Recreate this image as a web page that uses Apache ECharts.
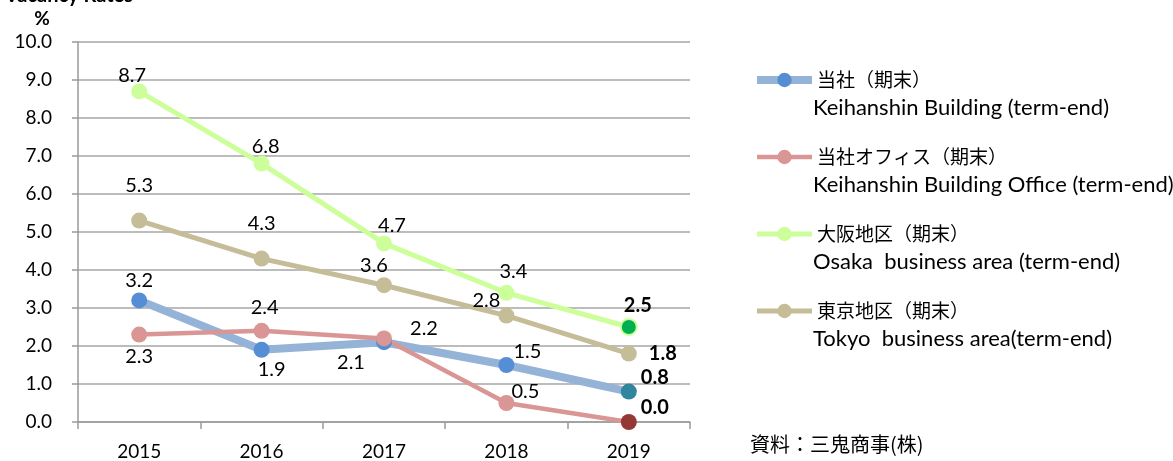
<!DOCTYPE html>
<html>
<head>
<meta charset="utf-8">
<script src="https://cdn.jsdelivr.net/npm/echarts@6/dist/echarts.min.js"></script>
<style>
  html, body { margin: 0; padding: 0; background: #fff; }
  #chart { width: 1173px; height: 461px; }
</style>
</head>
<body>
<div id="chart"></div>
<script>
// years and vacancy rates (%), term-end
var years = ['2015', '2016', '2017', '2018', '2019'];
var companyRate = [3.2, 1.9, 2.1, 1.5, 0.8];
var companyOfficeRate = [2.3, 2.4, 2.2, 0.5, 0.0];
var osakaRate = [8.7, 6.8, 4.7, 3.4, 2.5];
var tokyoRate = [5.3, 4.3, 3.6, 2.8, 1.8];

var seriesNames = ['当社（期末）', '当社オフィス（期末）', '大阪地区（期末）', '東京地区（期末）'];
var seriesNamesEn = ['Keihanshin Building (term-end)', 'Keihanshin Building Office (term-end)',
    'Osaka  business area (term-end)', 'Tokyo  business area(term-end)'];

// label offsets (px from point)
var companyOffsets = [[0, -20], [10, 20], [-33, 20], [21, -13], [26, -14]];
var officeOffsets = [[0, 22], [3, -23], [40, -10], [19, -11], [26, -14]];
var osakaOffsets = [[-7, -16], [4, -17], [8, -18], [7, -21], [9, -21]];
var tokyoOffsets = [[0, -35], [0, -35], [-10, -20], [-20, -15], [34, 0]];

var lineWidths = [8, 4.5, 5, 5];

var font = 'Lato, "Liberation Sans", sans-serif';
var jpFont = '"Noto Sans CJK JP", sans-serif';

function makeSeries(idx, values, lineColor, dotColor, lastColor, offsets) {
    var last = values.length - 1;
    return {
        name: seriesNames[idx],
        type: 'line',
        symbol: 'circle',
        symbolSize: 16,
        lineStyle: { color: lineColor, width: lineWidths[idx] },
        itemStyle: { color: dotColor },
        label: {
            show: true,
            position: 'inside',
            color: '#000',
            fontSize: 20,
            fontFamily: font,
            formatter: function (p) { return Number(p.value).toFixed(1); }
        },
        emphasis: { disabled: true },
        data: values.map(function (v, i) {
            var item = {
                value: v,
                label: { offset: offsets[i], fontWeight: i === last ? 'bold' : 'normal' }
            };
            if (i === last) item.itemStyle = lastColor;
            return item;
        })
    };
}

var enTexts = seriesNamesEn.map(function (t, i) {
    return {
        type: 'text', x: 813, y: 108 + i * 77,
        style: { text: t, fill: '#000', font: '22px ' + font, textVerticalAlign: 'middle' }
    };
});

var dom = document.getElementById('chart');
var myChart = echarts.init(dom);

var option = {
    animation: false,
    grid: { left: 78, right: 483, top: 42, bottom: 39 },
    legend: {
        orient: 'vertical',
        left: 753,
        top: 67,
        padding: 0,
        itemWidth: 55,
        itemHeight: 18,
        itemGap: 51,
        selectedMode: false,
        data: seriesNames.map(function (n, i) {
            return { name: n, lineStyle: { width: lineWidths[i] } };
        }),
        textStyle: { fontFamily: jpFont, fontSize: 19, lineHeight: 26, color: '#000' }
    },
    xAxis: {
        type: 'category',
        data: years,
        axisLine: { lineStyle: { color: '#9a9a9a', width: 1.5 } },
        axisTick: { show: true, length: 7, lineStyle: { color: '#9a9a9a', width: 1.5 } },
        axisLabel: { color: '#000', fontSize: 19, fontFamily: font, margin: 20 }
    },
    yAxis: {
        type: 'value',
        min: 0,
        max: 10,
        interval: 1,
        axisLine: { show: true, lineStyle: { color: '#9a9a9a', width: 1.5 } },
        axisTick: { show: true, length: 6, lineStyle: { color: '#9a9a9a', width: 1.5 } },
        splitLine: { lineStyle: { color: '#a6a6a6', width: 1.5 } },
        axisLabel: {
            color: '#000', fontSize: 19, fontFamily: font, margin: 26,
            formatter: function (v) { return v.toFixed(1); }
        }
    },
    graphic: [
        {
            type: 'text', x: 133, y: -14,
            style: { text: 'Vacancy Rates', fill: '#000', font: 'bold 20px ' + font, textAlign: 'right' }
        },
        {
            type: 'text', x: 42, y: 19,
            style: { text: '%', fill: '#000', font: 'bold 19px ' + font, textAlign: 'center', textVerticalAlign: 'middle' }
        },
        {
            type: 'text', x: 750, y: 444,
            style: { text: '資料：三鬼商事(株)', fill: '#000', font: '20px ' + jpFont, textVerticalAlign: 'middle' }
        }
    ].concat(enTexts),
    series: [
        makeSeries(0, companyRate, '#95b3d7', '#558ed5', { color: '#31859c' }, companyOffsets),
        makeSeries(1, companyOfficeRate, '#d99694', '#d99694', { color: '#953735' }, officeOffsets),
        makeSeries(2, osakaRate, '#ccff99', '#ccff99', { color: '#00b050', borderColor: '#ccff99', borderWidth: 2 }, osakaOffsets),
        makeSeries(3, tokyoRate, '#c4bd97', '#c4bd97', { color: '#c4bd97' }, tokyoOffsets)
    ]
};

if (option && typeof option === 'object') {
    myChart.setOption(option, false);
}
window.onresize = myChart.resize;
</script>
</body>
</html>
